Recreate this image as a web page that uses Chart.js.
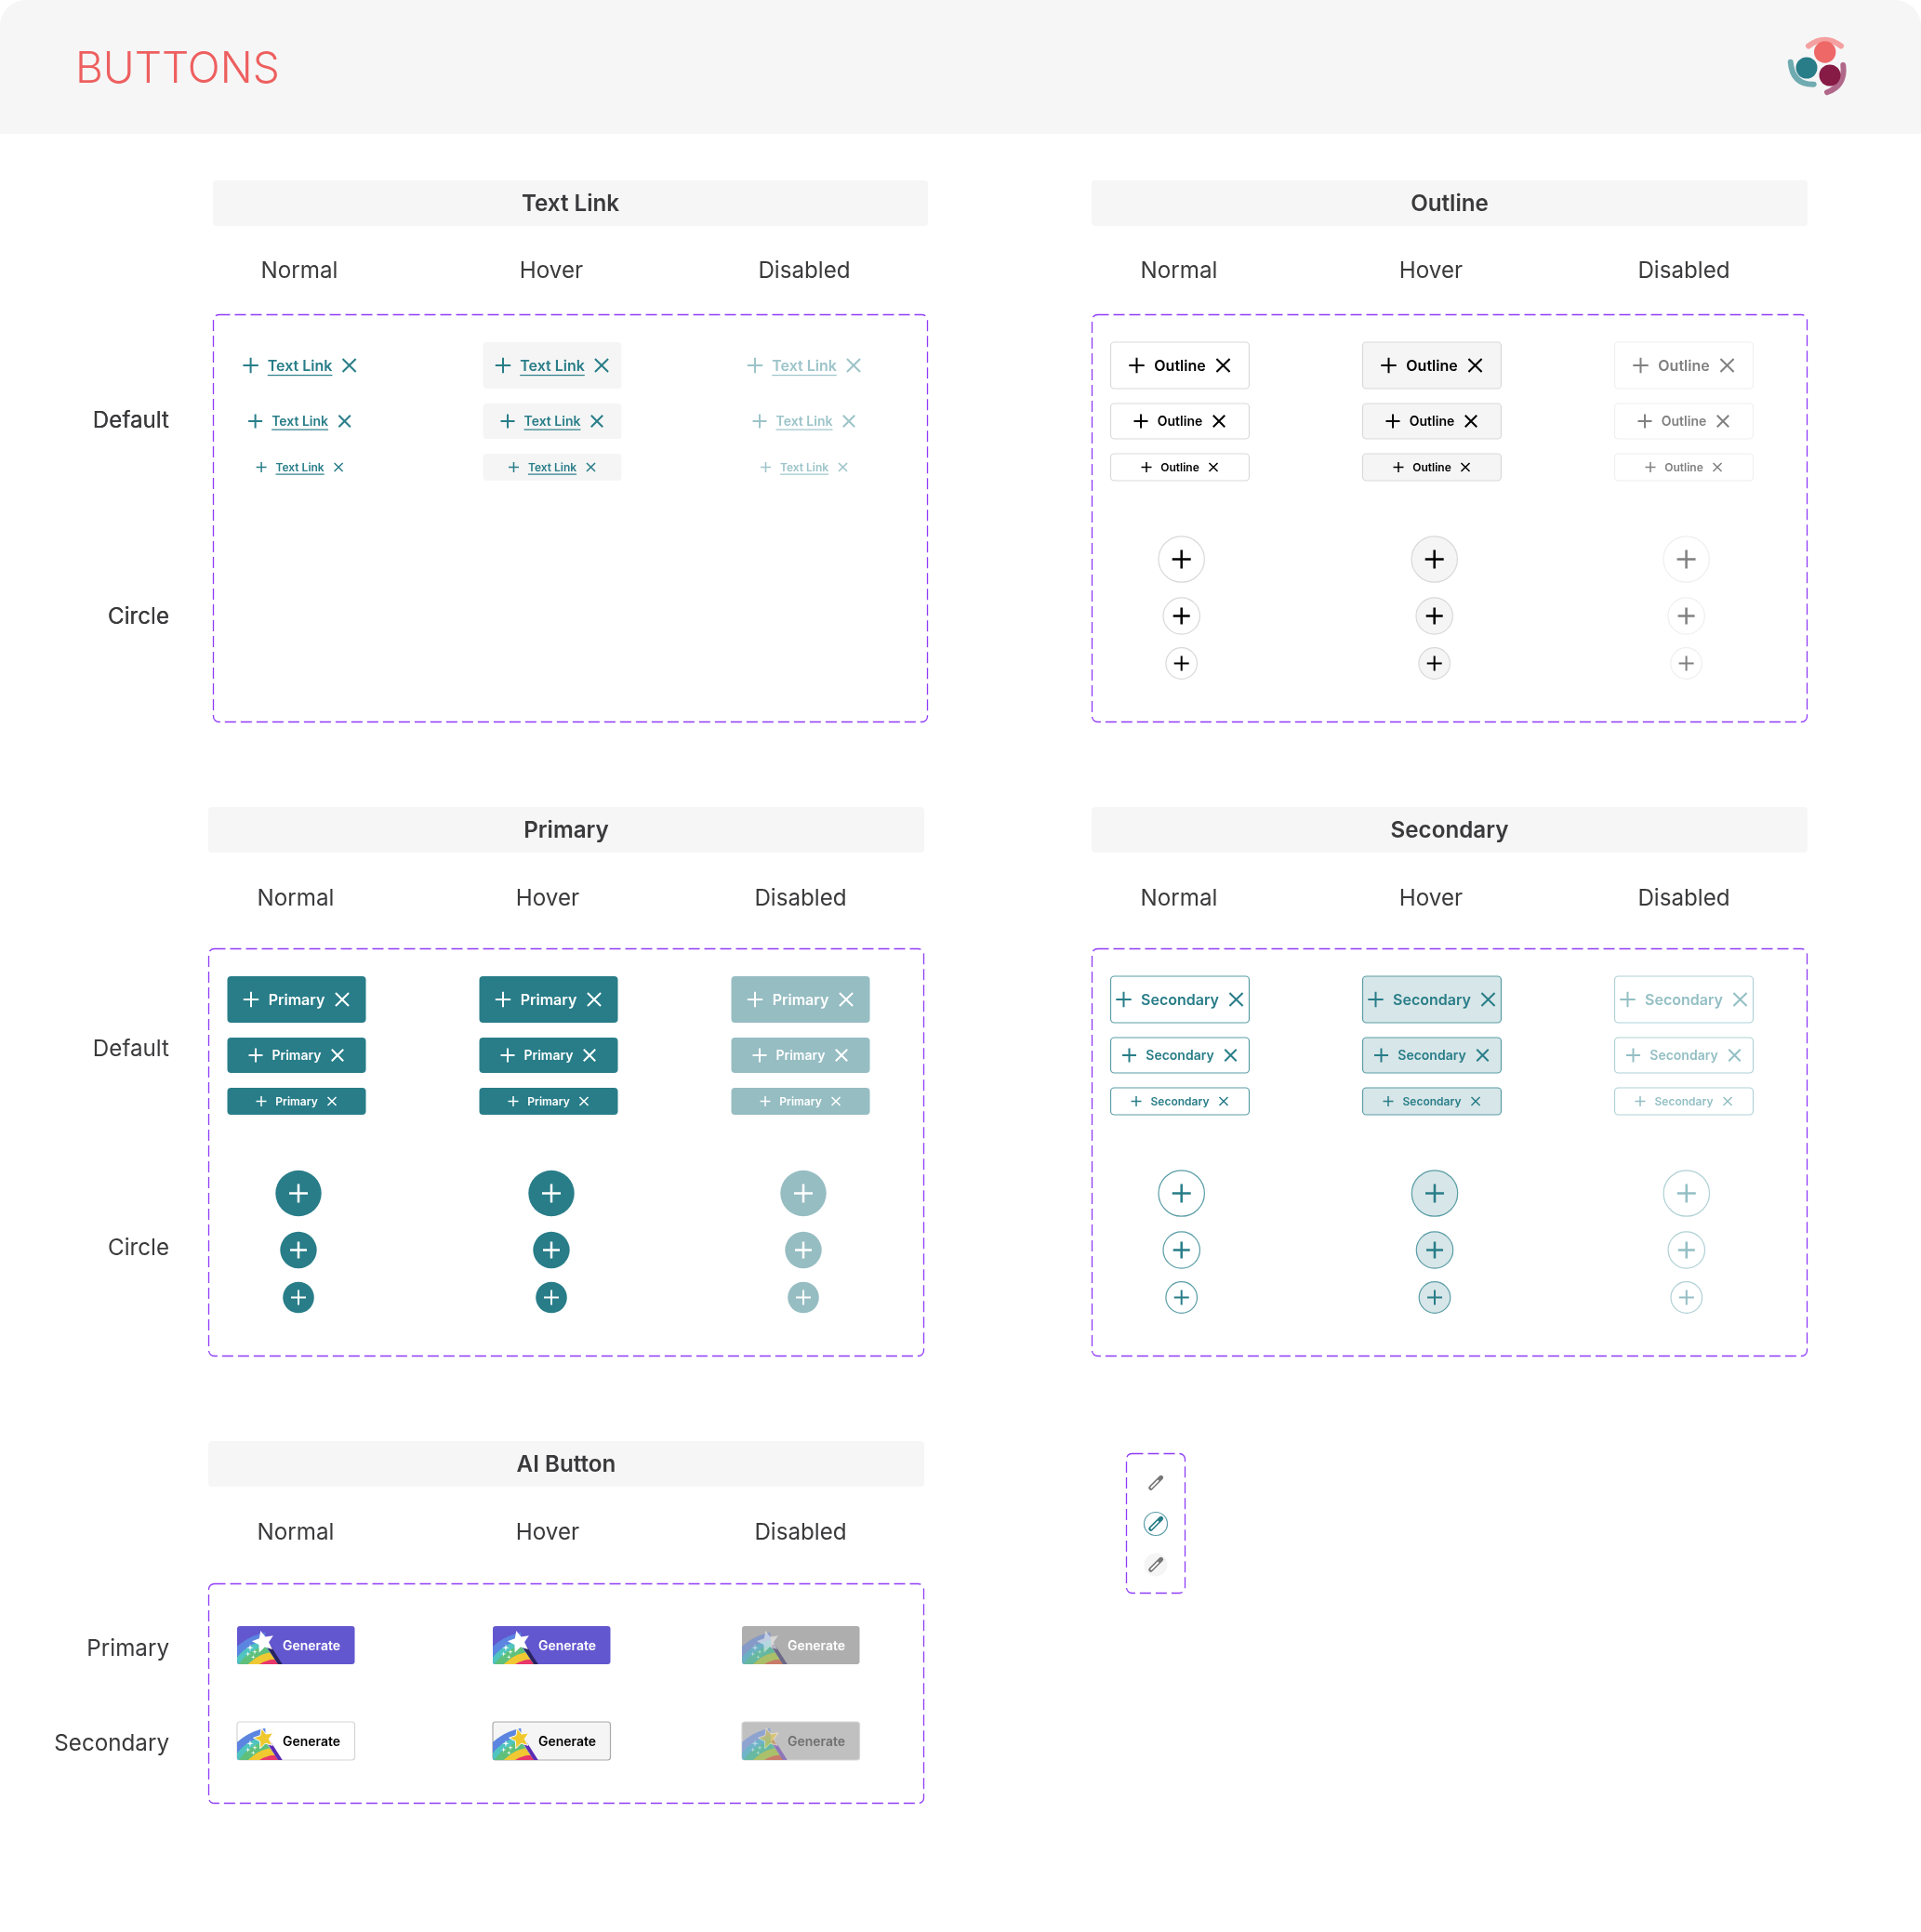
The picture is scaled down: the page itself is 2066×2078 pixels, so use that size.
<!DOCTYPE html>
<html>
<head>
<meta charset="utf-8">
<title>Buttons</title>
<script src="https://cdn.jsdelivr.net/npm/chart.js@4/dist/chart.umd.min.js"></script>
<style>
    html, body { margin: 0; padding: 0; background: #fff; }
    canvas { display: block; }
</style>
</head>
<body>
<canvas id="buttonSheet" width="2066" height="2078"></canvas>
<script>
// Content
const pageTitle = 'BUTTONS';
const buttonStates = ['Normal', 'Hover', 'Disabled'];
const variantNames = ['Text Link', 'Outline', 'Primary', 'Secondary'];
const buttonRows = ['Default', 'Circle'];
const aiTitle = 'AI Button';
const aiRows = ['Primary', 'Secondary'];
const aiLabel = 'Generate';

// Layout, in sheet pixels (the two axes run 0-2066 and 0-2078)
const SHEET_W = 2066, SHEET_H = 2078;
const sections = {
    'Text Link': { x0: 229, x1: 998, barY: 194, labelY: 291, boxY0: 338, boxY1: 777, rowY: [451.3, 662.3], labelX: [322, 593, 865], btnX: [322.6, 594, 865], circleX: null },
    'Outline': { x0: 1174, x1: 1944, barY: 194, labelY: 291, boxY0: 338, boxY1: 777, rowY: [451.3, 662.3], labelX: [1268, 1539, 1811], btnX: [1269, 1540, 1811], circleX: [1270.7, 1542.7, 1813.6] },
    'Primary': { x0: 224, x1: 994, barY: 868, labelY: 966, boxY0: 1020, boxY1: 1459, rowY: [1127.3, 1341.3], labelX: [318, 589, 861], btnX: [319, 590, 861], circleX: [321, 593, 864] },
    'Secondary': { x0: 1174, x1: 1944, barY: 868, labelY: 966, boxY0: 1020, boxY1: 1459, rowY: null, labelX: [1268, 1539, 1811], btnX: [1269, 1540, 1811], circleX: [1270.7, 1543, 1813.8] }
};
const aiSection = { x0: 224, x1: 994, barY: 1550, labelY: 1648, boxY0: 1703, boxY1: 1940, rowY: [1772.5, 1874.5], labelX: [318, 589, 861] };
const aiBtnX = [255, 530, 798];
const aiBtnY = [1749, 1852];
const BTN_W = 149, AI_W = 126.5, AI_H = 41;
const rowTops = [30, 96, 150];
const rowHeights = [50, 38, 29];
const rowFonts = [16, 14, 12];
const plusSizes = [8.2, 7.5, 5.5];
const crossSizes = [10, 8.8, 6.4];
const iconWidths = [2, 2, 1.5];
const iconOffsets = { 'Text Link': [53, 48, 41.5], 'Outline': [46.5, 42, 36], 'Primary': [49, 44, 38], 'Secondary': [60.5, 54.5, 47] };
const underlineDrop = [10, 8.5, 7];
const circleTops = [263.5, 324.5, 375.5];
const circleRadii = [24.7, 19.7, 16.8];
const circlePlus = [10, 9, 8];
const circlePlusWidth = [2.5, 2.5, 2];
const LABEL_FONT = '400 24.2px Inter';
const TITLE_FONT = '600 24.2px Inter';
const LABEL_INK = '#3a3a3c';
const DASH_INK = '#8f3cf7';

// Styles per variant, one entry per state
const TEAL = '#287d88';
const fills = {
    'Text Link': [null, '#f5f5f5', null],
    'Outline': ['#ffffff', '#f5f5f5', '#ffffff'],
    'Primary': [TEAL, TEAL, '#96bdc2'],
    'Secondary': ['#ffffff', '#d7e6e8', '#ffffff']
};
const strokes = {
    'Text Link': [null, null, null],
    'Outline': ['#d9d9d9', '#d9d9d9', '#efefef'],
    'Primary': [null, null, null],
    'Secondary': ['#5a9da6', '#5a9da6', '#b0d1d5']
};
const inks = {
    'Text Link': [TEAL, TEAL, '#9cc4c9'],
    'Outline': ['#000000', '#000000', '#808080'],
    'Primary': ['#ffffff', '#ffffff', '#ffffff'],
    'Secondary': [TEAL, TEAL, '#93bfc4']
};
const aiFills = [['#6357cf', '#6357cf', '#aeaeae'], ['#ffffff', '#f5f5f5', '#c0c0c0']];
const aiBorders = [[null, null, null], ['#d5d5d5', '#aaaaaa', '#d5d5d5']];
const aiInks = [['#ffffff', '#ffffff', '#ffffff'], ['#000000', '#000000', '#707070']];
const rainbowBands = ['#5b85e0', '#4fc4c0', '#5fc07c', '#f0c832', '#e8376a'];
const rainbowRadii = [62, 54, 48, 40, 32];

// Point datasets: circle buttons and the plus / cross icons
const discs = { data: [], radius: [], fill: [], edge: [], edgeW: [] };
const pluses = { data: [], radius: [], ink: [], width: [] };
const crosses = { data: [], radius: [], ink: [], width: [] };

function addDisc(x, y, r, fill, edge, edgeW) {
    discs.data.push({ x, y });
    discs.radius.push(r);
    discs.fill.push(fill);
    discs.edge.push(edge);
    discs.edgeW.push(edgeW);
}
function addIcon(set, x, y, r, ink, width) {
    set.data.push({ x, y });
    set.radius.push(r);
    set.ink.push(ink);
    set.width.push(width);
}

variantNames.forEach(name => {
    const s = sections[name];
    buttonStates.forEach((state, c) => {
        rowTops.forEach((top, r) => {
            const y = s.boxY0 + top + rowHeights[r] / 2;
            addIcon(pluses, s.btnX[c] - iconOffsets[name][r], y, plusSizes[r], inks[name][c], iconWidths[r]);
            addIcon(crosses, s.btnX[c] + iconOffsets[name][r], y, crossSizes[r], inks[name][c], iconWidths[r]);
        });
        if (!s.circleX) return;
        circleTops.forEach((top, r) => {
            const y = s.boxY0 + top;
            addDisc(s.circleX[c], y, circleRadii[r], fills[name][c], strokes[name][c] || fills[name][c], strokes[name][c] ? 1.2 : 0);
            addIcon(pluses, s.circleX[c], y, circlePlus[r], inks[name][c], circlePlusWidth[r]);
        });
    });
});

// Logo balls
addDisc(1962.7, 56, 11.7, '#ef6868', '#ef6868', 0);
addDisc(1943, 73, 11.5, TEAL, TEAL, 0);
addDisc(1968, 81, 11.5, '#861b46', '#861b46', 0);
// Backing circles of the pencil icons
addDisc(1243, 1639, 12.5, '#ffffff', '#5a9da6', 1.2);
addDisc(1243, 1683, 12.5, '#f5f5f5', '#f5f5f5', 0);

function roundBox(ctx, x, y, w, h, r, fill, stroke, lineW, dash) {
    ctx.save();
    ctx.beginPath();
    ctx.roundRect(x, y, w, h, r);
    if (fill) { ctx.fillStyle = fill; ctx.fill(); }
    if (stroke) {
        ctx.strokeStyle = stroke;
        ctx.lineWidth = lineW || 1;
        if (dash) ctx.setLineDash(dash);
        ctx.stroke();
    }
    ctx.restore();
}

function drawText(ctx, text, x, y, font, color, align) {
    ctx.font = font;
    ctx.fillStyle = color;
    ctx.textAlign = align || 'center';
    ctx.textBaseline = 'middle';
    ctx.fillText(text, x, y + 1);
}

function starPath(ctx, cx, cy, R, r, turn) {
    ctx.beginPath();
    for (let i = 0; i < 10; i++) {
        const a = turn + i * Math.PI / 5 - Math.PI / 2;
        const d = i % 2 ? r : R;
        ctx.lineTo(cx + Math.cos(a) * d, cy + Math.sin(a) * d);
    }
    ctx.closePath();
}

function sparkle(ctx, cx, cy, R) {
    ctx.beginPath();
    for (let i = 0; i < 8; i++) {
        const a = i * Math.PI / 4;
        const d = i % 2 ? R * 0.25 : R;
        ctx.lineTo(cx + Math.cos(a) * d, cy + Math.sin(a) * d);
    }
    ctx.closePath();
    ctx.fill();
}

// Rainbow, wand and star at the left of a Generate button
function drawSpark(ctx, x, y, w, h, row, state) {
    ctx.save();
    ctx.beginPath();
    ctx.roundRect(x, y, w, h, 3);
    ctx.clip();
    ctx.translate(x, y);
    if (state === 2) ctx.globalAlpha = 0.5;

    ctx.save();
    ctx.beginPath();
    ctx.moveTo(0, 0);
    ctx.lineTo(30, 0);
    ctx.lineTo(31, 22);
    ctx.lineTo(44, h);
    ctx.lineTo(0, h);
    ctx.closePath();
    ctx.clip();
    rainbowBands.forEach((color, i) => {
        ctx.beginPath();
        ctx.arc(41.7, 67.7, rainbowRadii[i], 0, Math.PI * 2);
        ctx.fillStyle = color;
        ctx.fill();
    });
    ctx.restore();

    ctx.fillStyle = '#ffffff';
    sparkle(ctx, 14, 23.3, 4);
    sparkle(ctx, 19, 27.7, 3);
    sparkle(ctx, 11.7, 30, 3);
    sparkle(ctx, 17.3, 33.3, 2.5);

    ctx.strokeStyle = row === 0 ? '#2a2460' : '#5b2bb5';
    ctx.lineWidth = 4;
    ctx.beginPath();
    ctx.moveTo(33, 20);
    ctx.lineTo(47, h + 1);
    ctx.stroke();

    if (row === 0) {
        starPath(ctx, 28.3, 17, 12.5, 5.8, -0.25);
        ctx.fillStyle = '#ffffff';
        ctx.fill();
    } else {
        starPath(ctx, 29, 18, 11.5, 5.3, -0.25);
        ctx.fillStyle = '#efc82f';
        ctx.strokeStyle = '#ffffff';
        ctx.lineWidth = 1;
        ctx.fill();
        ctx.stroke();
    }
    ctx.restore();
}

function drawPencil(ctx, cx, cy, color) {
    ctx.save();
    ctx.translate(cx, cy);
    ctx.rotate(-Math.PI / 4);
    ctx.lineCap = 'round';
    ctx.strokeStyle = color;
    ctx.lineWidth = 5;
    ctx.beginPath();
    ctx.moveTo(-7.5, 0);
    ctx.lineTo(8, 0);
    ctx.stroke();
    ctx.strokeStyle = '#ffffff';
    ctx.lineWidth = 1.8;
    ctx.lineCap = 'butt';
    ctx.beginPath();
    ctx.moveTo(-7.5, 0);
    ctx.lineTo(4, 0);
    ctx.stroke();
    ctx.restore();
}

function drawSectionFrame(ctx, X, Y, s, title) {
    const x0 = X(s.x0), x1 = X(s.x1);
    roundBox(ctx, x0, Y(s.barY), x1 - x0, 49, 4, '#f6f6f6');
    drawText(ctx, title, (x0 + x1) / 2, Y(s.barY + 24.5), TITLE_FONT, LABEL_INK);
    buttonStates.forEach((state, i) => {
        drawText(ctx, state, X(s.labelX[i]), Y(s.labelY), LABEL_FONT, LABEL_INK);
    });
    // half pixel offset keeps the dashes crisp
    roundBox(ctx, x0 + 0.5, Y(s.boxY0) + 0.5, x1 - x0 - 1, s.boxY1 - s.boxY0 - 1, 6, null, DASH_INK, 1.3, [12, 5]);
}

// Flat things: panels, button bodies and logo swooshes go under the points
const sheetUnder = {
    id: 'sheetUnder',
    beforeDatasetsDraw(chart) {
        const ctx = chart.ctx;
        const X = v => chart.scales.x.getPixelForValue(v);
        const Y = v => chart.scales.y.getPixelForValue(v);

        ctx.save();
        ctx.beginPath();
        ctx.roundRect(X(0), Y(0), SHEET_W, 144, [28, 28, 0, 0]);
        ctx.fillStyle = '#f6f6f6';
        ctx.fill();
        ctx.restore();

        ctx.save();
        ctx.lineCap = 'round';
        ctx.lineWidth = 6;
        [['#f5a0a0', [1945, 49.5], [1962.5, 36], [1980, 49.5]],
         ['#6fabb1', [1925.7, 66.7], [1927.8, 91.3], [1950.7, 90.7]],
         ['#b0688a', [1982.3, 70], [1985, 92], [1965, 99.3]]].forEach(arc => {
            ctx.strokeStyle = arc[0];
            ctx.beginPath();
            ctx.moveTo(X(arc[1][0]), Y(arc[1][1]));
            ctx.quadraticCurveTo(X(arc[2][0]), Y(arc[2][1]), X(arc[3][0]), Y(arc[3][1]));
            ctx.stroke();
        });
        ctx.restore();

        variantNames.forEach(name => {
            const s = sections[name];
            drawSectionFrame(ctx, X, Y, s, name);
            buttonStates.forEach((state, c) => {
                rowTops.forEach((top, r) => {
                    const fill = fills[name][c], stroke = strokes[name][c];
                    if (!fill && !stroke) return;
                    roundBox(ctx, X(s.btnX[c] - BTN_W / 2), Y(s.boxY0 + top), BTN_W, rowHeights[r], 4, fill, stroke, 1.2);
                });
            });
        });

        drawSectionFrame(ctx, X, Y, aiSection, aiTitle);
        aiBtnY.forEach((by, r) => {
            aiBtnX.forEach((bx, c) => {
                roundBox(ctx, X(bx), Y(by), AI_W, AI_H, 3, aiFills[r][c], aiBorders[r][c], 1.2);
            });
        });

        roundBox(ctx, X(1211) + 0.5, Y(1563) + 0.5, 63, 150, 6, null, DASH_INK, 1.3, [12, 5]);
    }
};

// Text and detailed icons go over the points
const sheetOver = {
    id: 'sheetOver',
    afterDatasetsDraw(chart) {
        const ctx = chart.ctx;
        const X = v => chart.scales.x.getPixelForValue(v);
        const Y = v => chart.scales.y.getPixelForValue(v);

        drawText(ctx, pageTitle, X(81), Y(74), '300 46px Inter', '#ee5f5f', 'left');

        variantNames.forEach(name => {
            const s = sections[name];
            if (s.rowY) {
                buttonRows.forEach((label, i) => {
                    drawText(ctx, label, X(182), Y(s.rowY[i]), LABEL_FONT, LABEL_INK, 'right');
                });
            }
            buttonStates.forEach((state, c) => {
                rowTops.forEach((top, r) => {
                    const y = Y(s.boxY0 + top + rowHeights[r] / 2);
                    const font = '600 ' + rowFonts[r] + 'px Inter';
                    drawText(ctx, name, X(s.btnX[c]), y, font, inks[name][c]);
                    if (name === 'Text Link') {
                        const w = ctx.measureText(name).width;
                        ctx.fillStyle = inks[name][c];
                        ctx.fillRect(X(s.btnX[c]) - w / 2, y + underlineDrop[r], w, 1.2);
                    }
                });
            });
        });

        aiRows.forEach((label, i) => {
            drawText(ctx, label, X(182), Y(aiSection.rowY[i]), LABEL_FONT, LABEL_INK, 'right');
        });
        aiBtnY.forEach((by, r) => {
            aiBtnX.forEach((bx, c) => {
                drawSpark(ctx, X(bx), Y(by), AI_W, AI_H, r, c);
                drawText(ctx, aiLabel, X(bx + 80), Y(by + AI_H / 2), '600 14px Inter', aiInks[r][c]);
            });
        });

        drawPencil(ctx, X(1243), Y(1595), '#777777');
        drawPencil(ctx, X(1243), Y(1639), TEAL);
        drawPencil(ctx, X(1243), Y(1683), '#777777');
    }
};

new Chart(document.getElementById('buttonSheet').getContext('2d'), {
    type: 'scatter',
    data: {
        datasets: [
            {
                label: 'plus icons',
                data: pluses.data,
                order: 1,
                pointStyle: 'cross',
                pointRadius: pluses.radius,
                pointBorderColor: pluses.ink,
                pointBorderWidth: pluses.width
            },
            {
                label: 'close icons',
                data: crosses.data,
                order: 1,
                pointStyle: 'crossRot',
                pointRadius: crosses.radius,
                pointBorderColor: crosses.ink,
                pointBorderWidth: crosses.width
            },
            {
                label: 'circle buttons',
                data: discs.data,
                order: 2,
                pointStyle: 'circle',
                pointRadius: discs.radius,
                pointBackgroundColor: discs.fill,
                pointBorderColor: discs.edge,
                pointBorderWidth: discs.edgeW
            }
        ]
    },
    options: {
        responsive: false,
        devicePixelRatio: 1,
        animation: false,
        events: [],
        clip: false,
        layout: { padding: 0, autoPadding: false },
        plugins: {
            legend: { display: false },
            tooltip: { enabled: false }
        },
        scales: {
            x: { type: 'linear', display: false, min: 0, max: SHEET_W },
            y: { type: 'linear', display: false, min: 0, max: SHEET_H, reverse: true }
        }
    },
    plugins: [sheetUnder, sheetOver]
});
</script>
</body>
</html>
